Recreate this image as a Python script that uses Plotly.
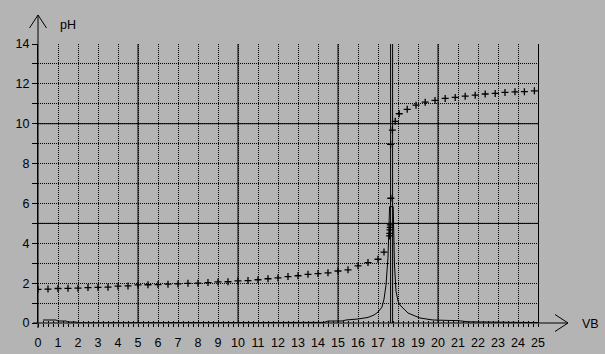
import plotly.graph_objects as go

# --- titration data (volume of base VB in mL, pH) ---
vb = [0, 0.5, 1.0, 1.5, 2.0, 2.5, 3.0, 3.5, 4.0, 4.5, 5.0, 5.5, 6.0, 6.5, 7.0, 7.5,
      8.0, 8.5, 9.0, 9.5, 10.0, 10.5, 11.0, 11.5, 12.0, 12.5, 13.0, 13.5, 14.0, 14.5,
      15.0, 15.5, 16.0, 16.5, 17.0, 17.3, 17.58, 17.59, 17.6, 17.61, 17.62, 17.64,
      17.63, 17.72, 17.86, 18.06, 18.46, 18.9, 19.36, 19.85, 20.36, 20.86, 21.36,
      21.86, 22.36, 22.86, 23.35, 23.85, 24.32, 24.82]
ph = [1.69, 1.70, 1.73, 1.74, 1.75, 1.78, 1.79, 1.80, 1.85, 1.86, 1.91, 1.92, 1.93,
      1.95, 1.96, 1.99, 2.00, 2.03, 2.06, 2.07, 2.11, 2.13, 2.17, 2.22, 2.26, 2.33,
      2.37, 2.44, 2.48, 2.52, 2.61, 2.67, 2.87, 3.03, 3.20, 3.56, 4.37, 4.50, 4.67,
      4.80, 4.92, 6.26, 8.97, 9.68, 10.12, 10.50, 10.72, 10.93, 11.08, 11.17, 11.27,
      11.32, 11.38, 11.43, 11.49, 11.52, 11.57, 11.60, 11.61, 11.65]

# --- derivative curve dpH/dVB (read in pH-axis units) ---
dv = [0.25, 0.9, 1.0, 1.4, 1.5, 1.9, 2.0, 5.0, 10.0, 14.3, 14.5, 15.2, 15.4, 16.0,
      16.5, 16.8, 17.0, 17.2, 17.3, 17.4, 17.5, 17.58, 17.76, 17.82, 17.9, 18.0,
      18.1, 18.5, 19.1, 19.75, 20.5, 21.0, 21.5, 23.0, 25.0]
dph = [0.15, 0.15, 0.10, 0.10, 0.05, 0.05, 0.01, 0.01, 0.02, 0.03, 0.10, 0.10, 0.15,
       0.20, 0.28, 0.40, 0.55, 0.80, 1.20, 1.90, 3.30, 5.84, 5.84, 3.00, 1.60, 1.10,
       0.90, 0.50, 0.25, 0.15, 0.13, 0.12, 0.06, 0.04, 0.02]

equivalence = [17.63, 17.73]
x_ticks = list(range(0, 26))
major_x = [5, 10, 15, 20]
major_y = [5, 10]

BG = "#b4b4b4"
FONT = dict(family="Liberation Sans, Arial, sans-serif", size=12.5, color="black")
DOT = "1px,1px"

fig = go.Figure()
fig.add_trace(go.Scatter(x=dv, y=dph, mode="lines",
                         line=dict(color="black", width=1), showlegend=False,
                         hoverinfo="skip"))
fig.add_trace(go.Scatter(x=vb, y=ph, mode="markers",
                         marker=dict(symbol="cross-thin", size=5,
                                     line=dict(color="black", width=1.3)),
                         showlegend=False))
fig.add_trace(go.Scatter(x=[], y=[], xaxis="x2", yaxis="y", showlegend=False))

shapes = []
for v in major_x:
    shapes.append(dict(type="line", xref="x", yref="y", x0=v, x1=v, y0=0, y1=14,
                       line=dict(color="black", width=1), layer="between"))
for v in major_y:
    shapes.append(dict(type="line", xref="x", yref="y", x0=0, x1=25, y0=v, y1=v,
                       line=dict(color="black", width=1), layer="between"))
for v in equivalence:
    shapes.append(dict(type="line", xref="x", yref="y", x0=v, x1=v, y0=0, y1=14,
                       line=dict(color="black", width=1), layer="above"))

# axis lines with arrow heads (paper coords; plot area 500 x 279 px)
W, H = 500.0, 279.0
def px(xp):
    return (xp - 38) / W
def py(yp):
    return (323 - yp) / H
axis_lines = [
    ((38, 328), (38, 15)), ((38, 15), (29.5, 28)), ((38, 15), (46.5, 28)),
    ((33, 323), (568, 323)), ((568, 323), (555, 314.5)), ((568, 323), (555, 331.5)),
]
for (a, b) in axis_lines:
    shapes.append(dict(type="line", xref="paper", yref="paper",
                       x0=px(a[0]), y0=py(a[1]), x1=px(b[0]), y1=py(b[1]),
                       line=dict(color="black", width=1), layer="above"))

fig.update_layout(
    width=605, height=354,
    margin=dict(l=38, r=67, t=44, b=31, pad=0),
    paper_bgcolor=BG, plot_bgcolor=BG,
    font=FONT,
    showlegend=False,
    shapes=shapes,
    xaxis=dict(range=[0, 25], tickvals=x_ticks, ticks="outside", ticklen=3,
               tickcolor="black", showgrid=True, gridcolor="black", griddash=DOT,
               gridwidth=1, zeroline=False, showline=False, automargin=False,
               ticklabelstandoff=5,
               minor=dict(dtick=0.25, ticks="outside", ticklen=3, tickcolor="black",
                          showgrid=False)),
    xaxis2=dict(range=[0, 25], overlaying="x", anchor="y", side="bottom",
                ticks="inside", ticklen=2, tickcolor="black", showticklabels=False,
                dtick=0.25, tick0=0, showgrid=False, zeroline=False, showline=False,
                automargin=False),
    yaxis=dict(range=[0, 14], dtick=2, ticks="outside", ticklen=5, tickcolor="black",
               showgrid=True, gridcolor="black", griddash=DOT, gridwidth=1,
               zeroline=False, showline=True, linecolor="black", linewidth=1,
               mirror=True, automargin=False,
               minor=dict(dtick=1, ticks="outside", ticklen=5, tickcolor="black",
                          showgrid=True, gridcolor="black", griddash=DOT, gridwidth=1)),
    annotations=[
        dict(text="pH", xref="paper", yref="paper", x=px(58), y=py(25),
             xanchor="left", yanchor="middle", showarrow=False, font=FONT),
        dict(text="VB", xref="paper", yref="paper", x=px(580), y=py(324),
             xanchor="left", yanchor="middle", showarrow=False, font=FONT),
    ],
)

fig.write_html("out.html")
